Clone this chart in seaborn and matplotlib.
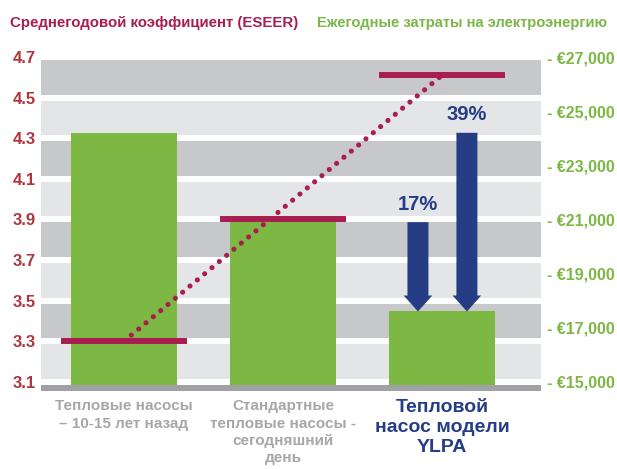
import matplotlib
matplotlib.use("Agg")
import matplotlib.pyplot as plt
import numpy as np
import seaborn as sns
from matplotlib.ticker import FixedLocator, FuncFormatter

# data
categories = ["Тепловые насосы\n– 10-15 лет назад",
              "Стандартные\nтепловые насосы -\nсегодняшний\nдень",
              "Тепловой\nнасос модели\nYLPA"]
annual_cost = [24200, 20900, 17600]          # euro, right axis
eseer = [3.30, 3.90, 4.61]                   # left axis
savings = ["39%", "17%"]                     # vs. first and second bar
eseer_ticks = [3.1, 3.3, 3.5, 3.7, 3.9, 4.1, 4.3, 4.5, 4.7]
cost_ticks = [15000, 17000, 19000, 21000, 23000, 25000, 27000]

GREEN = "#7cb843"
MAGENTA = "#a81e50"
RED = "#b0363d"
BLUE = "#253d85"
GREY_TXT = "#a6a7a9"
DARK_BAND = "#c7c8ca"
LIGHT_BAND = "#e4e5e7"
BASE = "#a0a1a4"

sns.set_style("white")
plt.rcParams["font.family"] = ["Liberation Sans", "DejaVu Sans"]
plt.rcParams["font.weight"] = "bold"

fig = plt.figure(figsize=(6.17, 4.69), dpi=100)
ax = fig.add_axes([41 / 617, 1 - 391 / 469, 500 / 617, 334 / 469])

# eseer scale <-> euro scale (3.1 -> 15000, 4.7 -> 27000)
e_lo, e_hi = 3.055, 4.70
def to_cost(e):
    return 15000 + (e - 3.1) * 7500

# striped background
gap = 0.015
for k in range(len(eseer_ticks) - 1):
    lo, hi = eseer_ticks[k], eseer_ticks[k + 1]
    col = LIGHT_BAND if k % 2 == 0 else DARK_BAND
    ax.axhspan(to_cost(lo + gap), to_cost(hi - gap), color=col, lw=0, zorder=0)

sns.barplot(x=categories, y=annual_cost, ax=ax, color=GREEN, saturation=1,
            width=0.667, linewidth=0, zorder=2)
ax.set_ylim(to_cost(e_lo), to_cost(e_hi))
ax.set_xlim(-0.522, 2.623)
ax.axhspan(to_cost(e_lo), to_cost(3.085), color=BASE, lw=0, zorder=3)

# savings arrows
arrow_src = [(0.157, annual_cost[0], savings[0]), (-0.151, annual_cost[1], savings[1])]
for dx, top, lab in arrow_src:
    x = 2 + dx
    ax.arrow(x, top, 0, annual_cost[2] - top, width=0.132, head_width=0.18,
             head_length=590, length_includes_head=True, color=BLUE, lw=0, zorder=4)
    ax.annotate(lab, (x, top), xytext=(0, 6), textcoords="offset points",
                ha="center", va="bottom", color=BLUE, fontsize=14.5, fontweight="bold")

ax.set_xlabel("")
ax.set_ylabel("")
ax.tick_params(axis="x", length=0, pad=6)
ax.set_xticks(range(len(categories)))
ax.set_xticklabels(categories, linespacing=1.3)
for i, t in enumerate(ax.get_xticklabels()):
    t.set_va("top")
    t.set_fontweight("bold")
    if i == 2:
        t.set_color(BLUE)
        t.set_fontsize(14)
        t.set_linespacing(1.2)
    else:
        t.set_color(GREY_TXT)
        t.set_fontsize(11)

# eseer axis on the left, costs on the right
ax2 = ax.twinx()
ax2.set_ylim(e_lo, e_hi)
ax.yaxis.tick_right()
ax.yaxis.set_major_locator(FixedLocator(cost_ticks))
ax.yaxis.set_major_formatter(FuncFormatter(lambda v, p: "- €{:,.0f}".format(v)))
ax.tick_params(axis="y", which="both", left=False, right=False, labelleft=False,
               labelright=True, length=0, pad=4, labelsize=11.5, labelcolor=GREEN)
ax2.yaxis.tick_left()
ax2.yaxis.set_major_locator(FixedLocator(eseer_ticks))
ax2.yaxis.set_major_formatter(FuncFormatter(lambda v, p: "{:.1f}".format(v)))
ax2.tick_params(axis="y", left=False, right=False, labelleft=True, labelright=False,
                length=0, pad=4, labelsize=12, labelcolor=RED)
for a in (ax, ax2):
    for s in a.spines.values():
        s.set_visible(False)

xs = np.arange(len(eseer))
ax2.hlines(eseer, xs - 0.396, xs + 0.396, color=MAGENTA, lw=4.3, zorder=5)
ax2.plot([xs[0], xs[-1]], [eseer[0], eseer[-1]], color=MAGENTA, lw=3.7,
         linestyle=(0, (0.01, 1.85)), dash_capstyle="round", zorder=4)

fig.text(10 / 617, 1 - 23 / 469, "Среднегодовой коэффициент (ESEER)",
         color=MAGENTA, fontsize=10.8, fontweight="bold", va="center")
fig.text(317 / 617, 1 - 23 / 469, "Ежегодные затраты на электроэнергию",
         color="#7ab648", fontsize=10.6, fontweight="bold", va="center")

fig.savefig("out.png", dpi=100)
